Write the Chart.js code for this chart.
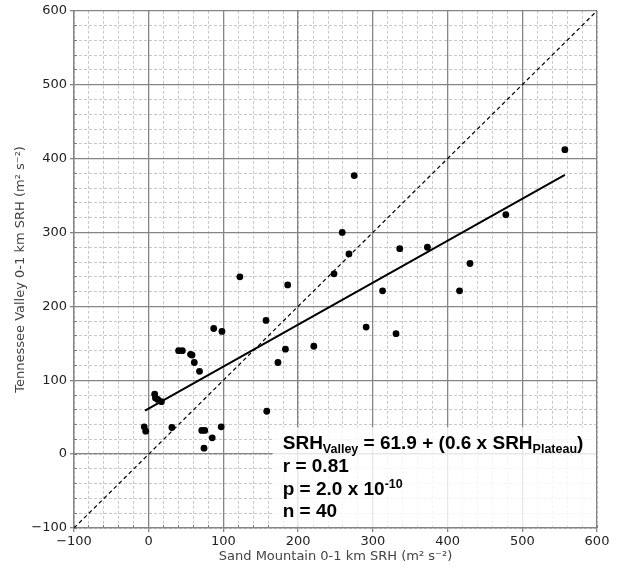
<!DOCTYPE html>
<html>
<head>
<meta charset="utf-8">
<script src="https://cdn.jsdelivr.net/npm/chart.js@4.4.1/dist/chart.umd.min.js"></script>
<style>
  html, body { margin: 0; padding: 0; background: #fff; }
  #wrap { width: 618px; height: 568px; }
</style>
</head>
<body>
<div id="wrap"><canvas id="srhChart" width="618" height="568"></canvas></div>
<script>
// 0-1 km SRH pairs (Sand Mountain on x, Tennessee Valley on y)
var plateauSRH = [-6, -4, 8, 9, 12, 17, 31, 40, 45, 56, 58, 61, 68, 71, 75, 74, 85, 87, 98, 97,
                  122, 157, 158, 173, 183, 186, 221, 248, 259, 268, 275, 291, 313, 331, 336, 373, 416, 430, 478, 557];
var valleySRH  = [37, 31, 81, 76, 74, 71, 36, 140, 140, 135, 134, 124, 112, 32, 32, 8, 22, 170, 166, 37,
                  240, 181, 58, 124, 142, 229, 146, 244, 300, 271, 377, 172, 221, 163, 278, 280, 221, 258, 324, 412];

// regression line as drawn (end points) and the 1:1 line
var fitX = [-5, 557];
var fitY = [59, 378];
var oneToOne = [-100, 600];

// axis range and tick steps
var axisMin = -100;
var axisMax = 600;
var majorStep = 100;
var minorStep = 20;

// annotation text, split into runs: [text, 'n' | 'sub' | 'sup']
var statLines = [
    [['SRH', 'n'], ['Valley', 'sub'], [' = 61.9 + (0.6 x SRH', 'n'], ['Plateau', 'sub'], [')', 'n']],
    [['r = 0.81', 'n']],
    [['p = 2.0 x 10', 'n'], ['-10', 'sup']],
    [['n = 40', 'n']]
];

var gridGray = '#858585';
var textFamily = '"Liberation Sans", Arial, sans-serif';

function minusLabel(v) {
    return v < 0 ? '\u2212' + Math.abs(v) : String(v);
}

// white, slightly see-through box with the regression statistics
var statsBox = {
    id: 'statsBox',
    beforeDatasetsDraw: function (chart) {
        var ctx = chart.ctx;
        var area = chart.chartArea;
        var left = chart.scales.x.getPixelForValue(166);
        var top = chart.scales.y.getPixelForValue(36.4);
        ctx.save();
        ctx.fillStyle = 'rgba(255,255,255,0.8)';
        ctx.fillRect(left, top, area.right - 1 - left, area.bottom - 1 - top);

        ctx.fillStyle = '#000';
        ctx.textBaseline = 'alphabetic';
        var baselines = [22, 45, 68, 90];
        statLines.forEach(function (runs, i) {
            var x = left + 10;
            var y = top + baselines[i];
            runs.forEach(function (run) {
                var size = run[1] == 'n' ? 19 : 12.5;
                var shift = run[1] == 'sub' ? 4 : (run[1] == 'sup' ? -7 : 0);
                ctx.font = 'bold ' + size + 'px ' + textFamily;
                ctx.fillText(run[0], x, y + shift);
                x += ctx.measureText(run[0]).width;
            });
        });
        ctx.restore();
    }
};

function buildPoints(xs, ys) {
    return xs.map(function (x, i) { return { x: x, y: ys[i] }; });
}

var ctx = document.getElementById('srhChart');
var srhChart = new Chart(ctx, {
    type: 'scatter',
    data: {
        datasets: [
            {
                label: 'cases',
                data: buildPoints(plateauSRH, valleySRH),
                backgroundColor: '#000',
                borderWidth: 0,
                pointRadius: 3.4
            },
            {
                label: 'fit',
                data: buildPoints(fitX, fitY),
                showLine: true,
                borderColor: '#000',
                borderWidth: 2,
                pointRadius: 0
            },
            {
                label: '1:1',
                data: buildPoints(oneToOne, oneToOne),
                showLine: true,
                borderColor: '#000',
                borderWidth: 1.2,
                borderDash: [4, 3],
                pointRadius: 0
            }
        ]
    },
    options: {
        responsive: false,
        animation: false,
        devicePixelRatio: 1,
        layout: { padding: { top: 9, right: 21, left: 0, bottom: 0 } },
        plugins: {
            legend: { display: false },
            tooltip: { enabled: false }
        },
        scales: {
            // minor dashed grid, drawn first and hugging the plot area
            xMinor: {
                type: 'linear', axis: 'x', position: 'bottom', weight: -1,
                min: axisMin, max: axisMax,
                ticks: { display: false, stepSize: minorStep },
                grid: { color: '#c2c2c2', lineWidth: 0.9, z: -1, tickLength: -3, tickColor: '#777', tickWidth: 1 },
                border: { display: false, dash: [3, 2] },
                afterFit: function (s) { s.height = 0; }
            },
            yMinor: {
                type: 'linear', axis: 'y', position: 'left', weight: -1,
                min: axisMin, max: axisMax,
                ticks: { display: false, stepSize: minorStep },
                grid: { color: '#c2c2c2', lineWidth: 0.9, z: -1, tickLength: -3, tickColor: '#777', tickWidth: 1 },
                border: { display: false, dash: [3, 2] },
                afterFit: function (s) { s.width = 0; }
            },
            x: {
                type: 'linear', position: 'bottom',
                min: axisMin, max: axisMax,
                ticks: {
                    stepSize: majorStep, color: '#222', padding: 2, maxRotation: 0,
                    font: { family: 'DejaVu Sans', size: 13 },
                    callback: minusLabel
                },
                grid: { color: gridGray, lineWidth: 1.3, tickLength: 4, tickColor: gridGray },
                border: { color: gridGray, width: 1.3 },
                title: {
                    display: true, text: 'Sand Mountain 0-1 km SRH (m\u00b2 s\u207b\u00b2)',
                    color: '#444', font: { family: 'DejaVu Sans', size: 13 },
                    padding: { top: 2, bottom: 4 }
                },
                afterFit: function (s) { s.height = 40; }
            },
            y: {
                type: 'linear', position: 'left',
                min: axisMin, max: axisMax,
                ticks: {
                    stepSize: majorStep, color: '#222', padding: 3,
                    font: { family: 'DejaVu Sans', size: 13 },
                    callback: minusLabel
                },
                grid: { color: gridGray, lineWidth: 1.3, tickLength: 4, tickColor: gridGray },
                border: { color: gridGray, width: 1.3 },
                title: {
                    display: true, text: 'Tennessee Valley 0-1 km SRH (m\u00b2 s\u207b\u00b2)',
                    color: '#444', font: { family: 'DejaVu Sans', size: 13 },
                    padding: { top: 13, bottom: 4 }
                },
                afterFit: function (s) { s.width = 74; }
            }
        }
    },
    plugins: [statsBox]
});
</script>
</body>
</html>
